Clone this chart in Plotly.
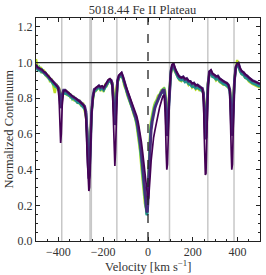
import plotly.graph_objects as go

TITLE = "5018.44 Fe II Plateau"
XLABEL = "Velocity [km s<sup>−1</sup>]"
YLABEL = "Normalized Continuum"

VELOCITY = [
    -500, -493, -486, -479, -472, -465, -458, -451, -444, -437,
    -430, -423, -416, -409, -402, -397, -393, -390, -387, -383,
    -377, -370, -362, -354, -346, -338, -330, -322, -314, -306,
    -298, -290, -283, -277, -272, -268, -264, -261, -257, -252,
    -246, -240, -233, -226, -219, -212, -205, -198, -191, -184,
    -177, -170, -164, -159, -155, -151, -148, -145, -141, -136,
    -130, -124, -118, -112, -106, -99, -92, -85, -78, -71,
    -64, -57, -50, -43, -36, -30, -24, -19, -14, -10,
    -6, -3, 0, 3, 6, 10, 14, 19, 25, 31,
    38, 45, 52, 59, 66, 72, 77, 81, 84, 87,
    91, 96, 102, 108, 114, 120, 127, 134, 141, 149,
    157, 165, 173, 181, 189, 197, 205, 213, 221, 229,
    237, 243, 248, 252, 256, 259, 263, 268, 274, 281,
    288, 296, 304, 312, 320, 328, 336, 344, 352, 359,
    365, 369, 372, 374, 377, 381, 386, 392, 398, 404,
    411, 418, 426, 434, 442, 450, 458, 466, 474, 482,
    490, 500,
]

FLUX_1 = [
    1.02, 0.975, 0.955, 0.975, 0.94, 0.96, 0.93, 0.92, 0.93, 0.89,
    0.91, 0.86, 0.83, 0.88, 0.855, 0.86, 0.83, 0.80, 0.81, 0.83,
    0.83, 0.85, 0.815, 0.835, 0.80, 0.815, 0.785, 0.80, 0.77, 0.79,
    0.755, 0.775, 0.73, 0.70, 0.62, 0.52, 0.46, 0.48, 0.57, 0.73,
    0.79, 0.84, 0.84, 0.855, 0.87, 0.84, 0.87, 0.835, 0.875, 0.87,
    0.895, 0.91, 0.885, 0.885, 0.85, 0.78, 0.75, 0.78, 0.86, 0.89,
    0.91, 0.93, 0.925, 0.91, 0.87, 0.85, 0.815, 0.795, 0.765, 0.745,
    0.71, 0.69, 0.64, 0.58, 0.51, 0.42, 0.33, 0.26, 0.21, 0.19,
    0.18, 0.21, 0.33, 0.46, 0.56, 0.63, 0.68, 0.72, 0.75, 0.775,
    0.79, 0.815, 0.82, 0.845, 0.85, 0.86, 0.84, 0.76, 0.69, 0.70,
    0.78, 0.88, 0.94, 0.97, 0.975, 0.95, 0.935, 0.92, 0.90, 0.895,
    0.91, 0.895, 0.895, 0.875, 0.885, 0.86, 0.87, 0.85, 0.86, 0.845,
    0.845, 0.84, 0.83, 0.76, 0.67, 0.68, 0.77, 0.89, 0.94, 0.94,
    0.92, 0.92, 0.90, 0.91, 0.89, 0.885, 0.875, 0.88, 0.865, 0.86,
    0.85, 0.81, 0.72, 0.69, 0.70, 0.80, 0.91, 0.97, 1.015, 0.98,
    0.95, 0.935, 0.93, 0.915, 0.91, 0.895, 0.885, 0.88, 0.875, 0.87,
    0.865, 0.86,
]

FLUX_2 = [
    0.99, 0.965, 0.975, 0.95, 0.96, 0.94, 0.945, 0.925, 0.91, 0.905,
    0.89, 0.88, 0.865, 0.865, 0.855, 0.84, 0.80, 0.775, 0.785, 0.825,
    0.835, 0.83, 0.825, 0.815, 0.82, 0.795, 0.805, 0.785, 0.78, 0.77,
    0.765, 0.755, 0.745, 0.715, 0.62, 0.49, 0.40, 0.42, 0.54, 0.72,
    0.80, 0.835, 0.845, 0.855, 0.86, 0.85, 0.855, 0.845, 0.86, 0.875,
    0.89, 0.895, 0.89, 0.87, 0.82, 0.74, 0.70, 0.74, 0.84, 0.885,
    0.915, 0.925, 0.93, 0.91, 0.88, 0.85, 0.825, 0.795, 0.775, 0.745,
    0.72, 0.69, 0.655, 0.595, 0.53, 0.455, 0.365, 0.295, 0.225, 0.175,
    0.15, 0.17, 0.27, 0.42, 0.52, 0.60, 0.66, 0.70, 0.735, 0.765,
    0.785, 0.805, 0.825, 0.84, 0.85, 0.855, 0.825, 0.73, 0.65, 0.66,
    0.75, 0.87, 0.95, 0.98, 0.985, 0.955, 0.935, 0.92, 0.91, 0.905,
    0.91, 0.895, 0.90, 0.885, 0.885, 0.87, 0.875, 0.86, 0.865, 0.855,
    0.85, 0.845, 0.83, 0.74, 0.63, 0.64, 0.75, 0.885, 0.94, 0.945,
    0.925, 0.92, 0.91, 0.915, 0.90, 0.89, 0.885, 0.88, 0.875, 0.865,
    0.845, 0.795, 0.70, 0.65, 0.67, 0.78, 0.90, 0.97, 0.99, 0.985,
    0.955, 0.94, 0.935, 0.92, 0.915, 0.905, 0.895, 0.89, 0.885, 0.88,
    0.875, 0.87,
]

FLUX_3 = [
    0.975, 0.96, 0.955, 0.955, 0.945, 0.945, 0.93, 0.925, 0.915, 0.90,
    0.895, 0.88, 0.875, 0.865, 0.855, 0.845, 0.79, 0.765, 0.775, 0.815,
    0.835, 0.825, 0.825, 0.815, 0.81, 0.80, 0.795, 0.785, 0.775, 0.775,
    0.765, 0.75, 0.74, 0.715, 0.62, 0.46, 0.38, 0.40, 0.53, 0.72,
    0.805, 0.84, 0.845, 0.855, 0.865, 0.85, 0.86, 0.845, 0.86, 0.88,
    0.89, 0.895, 0.89, 0.87, 0.815, 0.72, 0.68, 0.72, 0.835, 0.89,
    0.915, 0.925, 0.93, 0.91, 0.88, 0.85, 0.825, 0.80, 0.775, 0.75,
    0.725, 0.695, 0.66, 0.605, 0.545, 0.47, 0.385, 0.305, 0.235, 0.175,
    0.145, 0.15, 0.25, 0.40, 0.50, 0.585, 0.65, 0.69, 0.725, 0.755,
    0.775, 0.795, 0.81, 0.825, 0.835, 0.84, 0.805, 0.70, 0.62, 0.63,
    0.73, 0.86, 0.94, 0.975, 0.98, 0.955, 0.93, 0.915, 0.905, 0.90,
    0.905, 0.89, 0.895, 0.88, 0.875, 0.865, 0.865, 0.855, 0.86, 0.85,
    0.845, 0.84, 0.82, 0.72, 0.60, 0.61, 0.73, 0.88, 0.935, 0.94,
    0.92, 0.915, 0.905, 0.91, 0.895, 0.885, 0.88, 0.875, 0.87, 0.86,
    0.84, 0.78, 0.68, 0.62, 0.64, 0.76, 0.90, 0.965, 0.985, 0.98,
    0.95, 0.935, 0.93, 0.915, 0.91, 0.90, 0.89, 0.885, 0.88, 0.875,
    0.87, 0.865,
]

FLUX_4 = [
    0.985, 0.97, 0.965, 0.96, 0.955, 0.945, 0.94, 0.93, 0.92, 0.91,
    0.90, 0.89, 0.88, 0.875, 0.865, 0.85, 0.78, 0.745, 0.76, 0.82,
    0.845, 0.845, 0.835, 0.825, 0.82, 0.81, 0.805, 0.795, 0.79, 0.785,
    0.775, 0.765, 0.755, 0.725, 0.61, 0.44, 0.35, 0.37, 0.51, 0.72,
    0.81, 0.85, 0.855, 0.865, 0.87, 0.86, 0.865, 0.855, 0.87, 0.885,
    0.90, 0.905, 0.90, 0.88, 0.81, 0.69, 0.65, 0.69, 0.83, 0.90,
    0.925, 0.935, 0.94, 0.92, 0.89, 0.86, 0.835, 0.81, 0.785, 0.76,
    0.735, 0.705, 0.675, 0.625, 0.565, 0.50, 0.42, 0.34, 0.27, 0.21,
    0.17, 0.16, 0.22, 0.35, 0.45, 0.55, 0.62, 0.67, 0.71, 0.745,
    0.77, 0.795, 0.815, 0.83, 0.845, 0.845, 0.80, 0.68, 0.59, 0.60,
    0.71, 0.86, 0.95, 0.985, 0.99, 0.965, 0.945, 0.93, 0.92, 0.915,
    0.92, 0.905, 0.91, 0.895, 0.895, 0.88, 0.885, 0.87, 0.875, 0.865,
    0.86, 0.855, 0.825, 0.71, 0.57, 0.58, 0.71, 0.88, 0.95, 0.955,
    0.935, 0.93, 0.92, 0.925, 0.91, 0.90, 0.895, 0.89, 0.885, 0.875,
    0.85, 0.77, 0.65, 0.59, 0.61, 0.75, 0.90, 0.975, 0.99, 0.995,
    0.965, 0.95, 0.945, 0.93, 0.925, 0.915, 0.905, 0.90, 0.895, 0.89,
    0.885, 0.88,
]

FLUX_5 = [
    0.99, 0.975, 0.97, 0.965, 0.96, 0.95, 0.945, 0.935, 0.925, 0.915,
    0.905, 0.895, 0.885, 0.875, 0.86, 0.80, 0.62, 0.55, 0.60, 0.76,
    0.84, 0.845, 0.84, 0.83, 0.82, 0.815, 0.805, 0.80, 0.79, 0.785,
    0.775, 0.765, 0.75, 0.68, 0.50, 0.33, 0.28, 0.30, 0.45, 0.70,
    0.80, 0.845, 0.86, 0.865, 0.87, 0.865, 0.87, 0.86, 0.875, 0.89,
    0.905, 0.91, 0.90, 0.86, 0.70, 0.50, 0.42, 0.50, 0.76, 0.90,
    0.93, 0.94, 0.945, 0.925, 0.895, 0.87, 0.845, 0.82, 0.80, 0.775,
    0.75, 0.725, 0.70, 0.66, 0.61, 0.56, 0.50, 0.44, 0.38, 0.33,
    0.28, 0.25, 0.23, 0.24, 0.28, 0.37, 0.45, 0.52, 0.58, 0.62,
    0.67, 0.71, 0.75, 0.78, 0.81, 0.82, 0.72, 0.50, 0.40, 0.43,
    0.62, 0.84, 0.95, 0.99, 0.995, 0.97, 0.95, 0.935, 0.92, 0.915,
    0.92, 0.91, 0.91, 0.90, 0.895, 0.885, 0.885, 0.875, 0.875, 0.865,
    0.86, 0.85, 0.78, 0.55, 0.37, 0.38, 0.60, 0.86, 0.95, 0.96,
    0.94, 0.93, 0.925, 0.925, 0.91, 0.905, 0.895, 0.89, 0.885, 0.875,
    0.84, 0.70, 0.48, 0.40, 0.43, 0.65, 0.88, 0.975, 0.995, 1.0,
    0.97, 0.955, 0.945, 0.935, 0.925, 0.915, 0.905, 0.90, 0.895, 0.89,
    0.885, 0.88,
]

SERIES = [FLUX_1, FLUX_2, FLUX_3, FLUX_4, FLUX_5]
COLORS = ["#bddf26", "#5ec962", "#21918c", "#472d7b", "#440154"]
WIDTHS = [2.4, 2.4, 2.4, 2.8, 1.7]

GREY_LINES = [-385, -259, -253, -139, 96, 267, 384]
CONTINUUM = 1.0
LINE_CENTER = 0

fig = go.Figure()

for flux, color, w in zip(SERIES, COLORS, WIDTHS):
    fig.add_trace(go.Scatter(x=VELOCITY, y=flux, mode="lines",
                             line=dict(color=color, width=w),
                             showlegend=False, hoverinfo="skip"))

shapes = []
for g in GREY_LINES:
    shapes.append(dict(type="line", xref="x", yref="paper", x0=g, x1=g, y0=0, y1=1,
                       line=dict(color="rgba(180,180,180,0.75)", width=1.5), layer="below"))
shapes.append(dict(type="line", xref="paper", yref="y", x0=0, x1=1, y0=CONTINUUM, y1=CONTINUUM,
                   line=dict(color="#222", width=1.3), layer="above"))
shapes.append(dict(type="line", xref="x", yref="paper", x0=LINE_CENTER, x1=LINE_CENTER, y0=0, y1=1,
                   line=dict(color="#222", width=1.3, dash="dash"), layer="above"))

FONT = "Liberation Serif"

axis_common = dict(
    showgrid=False, zeroline=False, showline=True, linecolor="#222", linewidth=1,
    mirror="allticks", ticks="inside", ticklen=4, tickwidth=0.8, tickcolor="#222",
    tickfont=dict(family=FONT, size=12, color="#333"),
)

fig.update_layout(
    width=266, height=275,
    margin=dict(l=36, r=6, t=18, b=34),
    paper_bgcolor="white", plot_bgcolor="white",
    shapes=shapes,
    title=dict(text=TITLE, x=0.5357, xanchor="center", y=1 - 10 / 275, yref="container",
               yanchor="middle", font=dict(family=FONT, size=12.5, color="#333")),
    xaxis=dict(range=[-500, 500], tickvals=[-400, -200, 0, 200, 400],
               ticktext=["−400", "−200", "0", "200", "400"],
               minor=dict(dtick=50, tick0=0, ticks="inside", ticklen=2, tickcolor="#222"),
               **axis_common),
    yaxis=dict(range=[0, 1.25], tickvals=[0, 0.2, 0.4, 0.6, 0.8, 1.0, 1.2],
               ticktext=["0.0", "0.2", "0.4", "0.6", "0.8", "1.0", "1.2"],
               minor=dict(dtick=0.05, tick0=0, ticks="inside", ticklen=2, tickcolor="#222"),
               **axis_common),
    annotations=[
        dict(text=XLABEL, xref="paper", yref="paper", x=0.5, y=0, yanchor="top",
             yshift=-15, showarrow=False, font=dict(family=FONT, size=12.5, color="#333")),
        dict(text=YLABEL, xref="paper", yref="paper", x=-0.125, y=0.5, textangle=-90,
             xanchor="center", yanchor="middle", showarrow=False,
             font=dict(family=FONT, size=12.5, color="#333")),
    ],
)

fig.write_html("out.html", config={"displayModeBar": False},
               post_script="document.body.style.margin='0';")
